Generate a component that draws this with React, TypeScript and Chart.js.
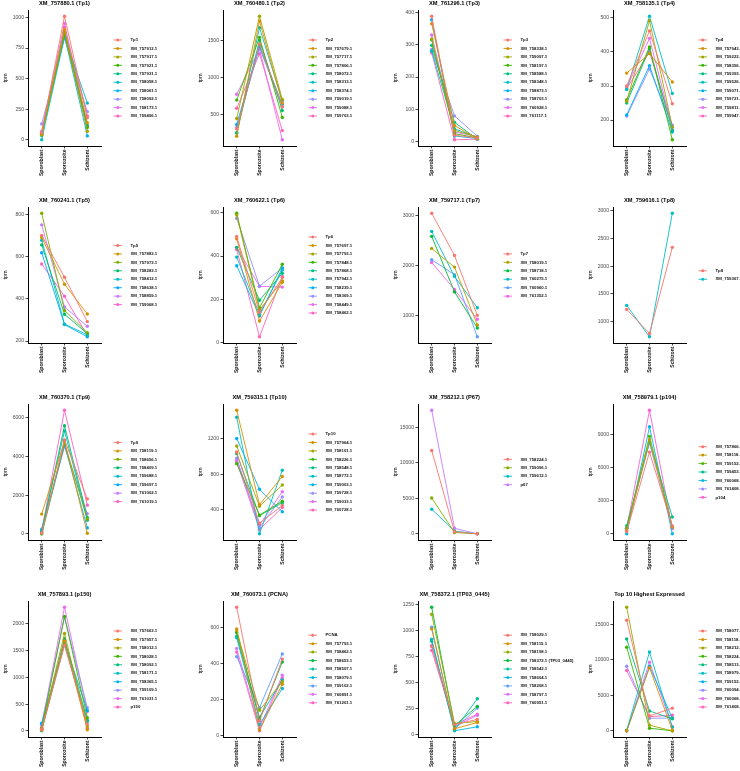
import React, { useEffect, useRef } from "react";
import { Chart, registerables } from "chart.js";

Chart.register(...registerables);

const stages = ["Sporoblast", "Sporozoite", "Schizont"];

// ---- Panel 1
const tp1Title = "XM_757880.1 (Tp1)";
const tp1Ticks = [0, 250, 500, 750, 1000];
const tp1Names = ["Tp1", "XM_757912.1", "XM_757917.1", "XM_757921.1", "XM_757931.1", "XM_758058.1", "XM_758061.1", "XM_758092.1", "XM_758173.1", "XM_759456.1"];
const tp1Values = [
  [60, 1010, 180], [50, 900, 140], [40, 880, 70], [45, 870, 100], [35, 890, 120],
  [0, 840, 300], [45, 850, 32], [130, 830, 230], [70, 950, 110], [55, 920, 195],
];

// ---- Panel 2
const tp2Title = "XM_760480.1 (Tp2)";
const tp2Ticks = [500, 1000, 1500];
const tp2Names = ["Tp2", "XM_757679.1", "XM_757717.1", "XM_757806.1", "XM_758072.1", "XM_758313.1", "XM_758374.1", "XM_759019.1", "XM_759088.1", "XM_759703.1"];
const tp2Values = [
  [300, 1450, 600], [200, 1760, 650], [440, 1826, 700], [690, 1540, 455], [250, 1500, 550],
  [240, 1670, 680], [360, 1420, 629], [320, 1400, 600], [770, 1380, 152], [580, 1317, 277],
];

// ---- Panel 3
const tp3Title = "XM_761296.1 (Tp3)";
const tp3Ticks = [0, 100, 200, 300, 400];
const tp3Names = ["Tp3", "XM_758338.1", "XM_759097.1", "XM_758197.1", "XM_758588.1", "XM_758348.1", "XM_758873.1", "XM_758703.1", "XM_760928.1", "XM_761117.1"];
const tp3Values = [
  [388, 20, 12], [365, 50, 10], [318, 35, 15], [315, 25, 12], [298, 60, 8],
  [280, 40, 14], [377, 18, 10], [285, 80, 17], [330, 30, 16], [275, 6, 8],
];

// ---- Panel 4
const tp4Title = "XM_758135.1 (Tp4)";
const tp4Ticks = [200, 300, 400, 500];
const tp4Names = ["Tp4", "XM_757943.1", "XM_759222.1", "XM_758356.1", "XM_759393.1", "XM_759526.1", "XM_759071.1", "XM_759721.1", "XM_759811.1", "XM_759947.1"];
const tp4Values = [
  [300, 462, 248], [338, 395, 312], [255, 492, 180], [260, 415, 142], [250, 410, 170],
  [290, 505, 278], [215, 360, 165], [212, 350, 185], [295, 440, 178], [292, 400, 183],
];

// ---- Panel 5
const tp5Title = "XM_760241.1 (Tp5)";
const tp5Ticks = [200, 400, 600, 800];
const tp5Names = ["Tp5", "XM_757883.1", "XM_757973.1", "XM_758283.1", "XM_758412.1", "XM_758638.1", "XM_758859.1", "XM_759068.1"];
const tp5Values = [
  [700, 502, 292], [690, 469, 328], [805, 345, 240], [655, 327, 235],
  [677, 280, 230], [618, 278, 220], [750, 361, 270], [565, 412, 225],
];

// ---- Panel 6
const tp6Title = "XM_760622.1 (Tp6)";
const tp6Ticks = [0, 200, 400, 600];
const tp6Names = ["Tp6", "XM_757697.1", "XM_757793.1", "XM_757848.1", "XM_757868.1", "XM_757942.1", "XM_758239.1", "XM_758369.1", "XM_758449.1", "XM_758462.1"];
const tp6Values = [
  [490, 140, 300], [480, 99, 278], [590, 150, 285], [598, 160, 362], [440, 195, 320],
  [395, 130, 335], [355, 122, 345], [575, 260, 345], [440, 260, 256], [430, 26, 305],
];

// ---- Panel 7
const tp7Title = "XM_759717.1 (Tp7)";
const tp7Ticks = [1000, 2000, 3000];
const tp7Names = ["Tp7", "XM_758019.1", "XM_758718.1", "XM_760275.1", "XM_760960.1", "XM_761352.1"];
const tp7Values = [
  [3046, 2199, 1000], [2338, 1967, 808], [2583, 1470, 748],
  [2682, 1781, 1152], [2113, 1815, 570], [2060, 1517, 921],
];

// ---- Panel 8
const tp8Title = "XM_759616.1 (Tp8)";
const tp8Ticks = [1000, 1500, 2000, 2500, 3000];
const tp8Names = ["Tp8", "XM_759367.1"];
const tp8Values = [
  [1221, 785, 2341], [1293, 725, 2958],
];

// ---- Panel 9
const tp9Title = "XM_760370.1 (Tp9)";
const tp9Ticks = [0, 2000, 4000, 6000];
const tp9Names = ["Tp9", "XM_758119.1", "XM_758656.1", "XM_758409.1", "XM_759688.1", "XM_759697.1", "XM_761002.1", "XM_761019.1"];
const tp9Values = [
  [50, 4855, 1806], [1020, 4800, 30], [0, 4700, 750], [100, 5590, 850],
  [200, 5315, 700], [0, 4600, 306], [255, 4500, 1040], [150, 6390, 1482],
];

// ---- Panel 10
const tp10Title = "XM_759315.1 (Tp10)";
const tp10Ticks = [400, 800, 1200];
const tp10Names = ["Tp10", "XM_757964.1", "XM_758101.1", "XM_758226.1", "XM_758548.1", "XM_758772.1", "XM_759003.1", "XM_759728.1", "XM_759033.1", "XM_760728.1"];
const tp10Values = [
  [1048, 250, 450], [1517, 459, 774], [1115, 440, 678], [918, 341, 497], [1030, 335, 480],
  [1439, 131, 844], [1200, 630, 378], [980, 200, 545], [960, 230, 604], [940, 180, 425],
];

// ---- Panel 11
const p67Title = "XM_758212.1 (P67)";
const p67Ticks = [0, 5000, 10000, 15000];
const p67Names = ["XM_758224.1", "XM_759096.1", "XM_759612.1", "p67"];
const p67Values = [
  [11750, 300, 10], [5060, 200, 10], [3480, 400, 10], [17430, 790, 10],
];

// ---- Panel 12
const p104Title = "XM_758979.1 (p104)";
const p104Ticks = [0, 3000, 6000, 9000];
const p104Names = ["XM_757866.1", "XM_758118.1", "XM_759152.1", "XM_759453.1", "XM_760068.1", "XM_761408.1", "p104"];
const p104Values = [
  [200, 7380, 700], [300, 8500, 600], [500, 8800, 650], [744, 8300, 1520],
  [0, 9670, 0], [500, 8200, 500], [500, 11160, 500],
];

// ---- Panel 13
const p150Title = "XM_757893.1 (p150)";
const p150Ticks = [0, 500, 1000, 1500, 2000];
const p150Names = ["XM_757663.1", "XM_757957.1", "XM_758012.1", "XM_758028.1", "XM_758092.1", "XM_758171.1", "XM_758365.1", "XM_759109.1", "XM_761031.1", "p150"];
const p150Values = [
  [30, 1600, 120], [10, 1680, 20], [40, 1822, 80], [50, 2142, 246], [20, 1723, 200],
  [0, 1620, 170], [141, 1650, 380], [130, 2130, 431], [100, 2314, 360], [60, 1700, 50],
];

// ---- Panel 14
const pcnaTitle = "XM_760073.1 (PCNA)";
const pcnaTicks = [0, 200, 400, 600];
const pcnaNames = ["PCNA", "XM_757793.1", "XM_758462.1", "XM_758653.1", "XM_758507.1", "XM_758079.1", "XM_759102.1", "XM_760891.1", "XM_761201.1"];
const pcnaValues = [
  [716, 80, 426], [595, 30, 285], [585, 140, 300], [575, 90, 410], [555, 100, 310],
  [545, 60, 262], [440, 154, 455], [485, 40, 336], [465, 25, 320],
];

// ---- Panel 15
const tp03Title = "XM_758372.1 (TP03_0445)";
const tp03Ticks = [0, 250, 500, 750, 1000, 1250];
const tp03Names = ["XM_758029.1", "XM_758115.1", "XM_758198.1", "XM_758372.1 (TP03_0445)", "XM_758542.1", "XM_758604.1", "XM_758208.1", "XM_758797.1", "XM_760951.1"];
const tp03Values = [
  [850, 100, 150], [1020, 60, 120], [1161, 110, 130], [1228, 90, 275], [900, 50, 348],
  [920, 40, 79], [1035, 55, 259], [861, 80, 190], [813, 100, 199],
];

// ---- Panel 16
const topTitle = "Top 10 Highest Expressed";
const topTicks = [0, 5000, 10000, 15000];
const topNames = ["XM_758077.1", "XM_758118.1", "XM_758212.1", "XM_758224.1", "XM_758513.1", "XM_758979.1", "XM_759152.1", "XM_760094.1", "XM_760068.1", "XM_761408.1"];
const topValues = [
  [15600, 2100, 3200], [0, 8900, 100], [17430, 790, 0], [11780, 370, 0], [12940, 2800, 1700],
  [100, 11120, 500], [0, 9100, 1775], [9110, 1775, 1800], [0, 9670, 600], [8500, 2000, 2200],
];

type Panel = { title: string; names: string[]; values: number[][]; ticks: number[] };

const panels: Panel[] = [
  { title: tp1Title, names: tp1Names, values: tp1Values, ticks: tp1Ticks },
  { title: tp2Title, names: tp2Names, values: tp2Values, ticks: tp2Ticks },
  { title: tp3Title, names: tp3Names, values: tp3Values, ticks: tp3Ticks },
  { title: tp4Title, names: tp4Names, values: tp4Values, ticks: tp4Ticks },
  { title: tp5Title, names: tp5Names, values: tp5Values, ticks: tp5Ticks },
  { title: tp6Title, names: tp6Names, values: tp6Values, ticks: tp6Ticks },
  { title: tp7Title, names: tp7Names, values: tp7Values, ticks: tp7Ticks },
  { title: tp8Title, names: tp8Names, values: tp8Values, ticks: tp8Ticks },
  { title: tp9Title, names: tp9Names, values: tp9Values, ticks: tp9Ticks },
  { title: tp10Title, names: tp10Names, values: tp10Values, ticks: tp10Ticks },
  { title: p67Title, names: p67Names, values: p67Values, ticks: p67Ticks },
  { title: p104Title, names: p104Names, values: p104Values, ticks: p104Ticks },
  { title: p150Title, names: p150Names, values: p150Values, ticks: p150Ticks },
  { title: pcnaTitle, names: pcnaNames, values: pcnaValues, ticks: pcnaTicks },
  { title: tp03Title, names: tp03Names, values: tp03Values, ticks: tp03Ticks },
  { title: topTitle, names: topNames, values: topValues, ticks: topTicks },
];

// ggplot2-style hue palette (HCL, c=100, l=65)
function hcl(h: number, c: number, l: number): string {
  const hr = (h * Math.PI) / 180;
  const U = c * Math.cos(hr);
  const V = c * Math.sin(hr);
  const Xn = 95.047, Yn = 100, Zn = 108.883;
  const den = Xn + 15 * Yn + 3 * Zn;
  const un = (4 * Xn) / den, vn = (9 * Yn) / den;
  const Y = l > 8 ? Yn * Math.pow((l + 16) / 116, 3) : (Yn * l) / 903.3;
  const u = U / (13 * l) + un;
  const v = V / (13 * l) + vn;
  const X = (Y * 9 * u) / (4 * v);
  const Z = (Y * (12 - 3 * u - 20 * v)) / (4 * v);
  const x = X / 100, y = Y / 100, z = Z / 100;
  const lin = [
    3.2404542 * x - 1.5371385 * y - 0.4985314 * z,
    -0.969266 * x + 1.8760108 * y + 0.041556 * z,
    0.0556434 * x - 0.2040259 * y + 1.0572252 * z,
  ];
  const hex = lin
    .map((c0) => {
      const g = c0 <= 0.0031308 ? 12.92 * c0 : 1.055 * Math.pow(c0, 1 / 2.4) - 0.055;
      const k = Math.round(Math.max(0, Math.min(1, g)) * 255);
      return k.toString(16).padStart(2, "0");
    })
    .join("");
  return "#" + hex.toUpperCase();
}

function huePalette(n: number): string[] {
  const out: string[] = [];
  for (let i = 0; i < n; i++) out.push(hcl(15 + (360 * i) / n, 100, 65));
  return out;
}

const FONT = "'Liberation Sans', Arial, Helvetica, sans-serif";
const CELL_W = 195;
const CELL_H = 197;
const ROW0 = -3;

const ggLegend = {
  id: "ggLegend",
  afterDraw(chart: any) {
    const { ctx, chartArea } = chart;
    const ds = chart.data.datasets;
    const n = ds.length;
    const rowH = 8.45;
    const cy = (chartArea.top + chartArea.bottom) / 2;
    const x0 = chartArea.right + 12.5;
    ctx.save();
    ctx.font = `bold 4.3px ${FONT}`;
    ctx.textBaseline = "middle";
    ctx.textAlign = "left";
    ds.forEach((d: any, i: number) => {
      const y = cy + (i - (n - 1) / 2) * rowH;
      ctx.strokeStyle = d.borderColor;
      ctx.lineWidth = 0.9;
      ctx.beginPath();
      ctx.moveTo(x0, y);
      ctx.lineTo(x0 + 8.5, y);
      ctx.stroke();
      ctx.fillStyle = d.borderColor;
      ctx.beginPath();
      ctx.arc(x0 + 4.25, y, 1.5, 0, Math.PI * 2);
      ctx.fill();
      ctx.fillStyle = "#111";
      ctx.fillText(d.label, x0 + 17, y);
    });
    ctx.restore();
  },
};

function PanelChart({ p, left, top }: { p: Panel; left: number; top: number }) {
  const ref = useRef<HTMLCanvasElement | null>(null);
  useEffect(() => {
    if (!ref.current) return;
    const colors = huePalette(p.names.length);
    const all = p.values.flat();
    const lo = Math.min(...all);
    const hi = Math.max(...all);
    const pad = (hi - lo) * 0.05;
    const chart = new Chart(ref.current, {
      type: "line",
      data: {
        datasets: p.names.map((name, i) => ({
          label: name,
          data: p.values[i].map((v, j) => ({ x: j + 1, y: v })),
          borderColor: colors[i],
          backgroundColor: colors[i],
          borderWidth: 0.9,
          pointRadius: 1.7,
          pointBorderWidth: 0,
          pointHoverRadius: 1.7,
          tension: 0,
        })),
      },
      options: {
        animation: false,
        responsive: false,
        events: [],
        layout: { padding: { left: 0, right: 94, top: 0, bottom: 0 } },
        plugins: {
          legend: { display: false },
          tooltip: { enabled: false },
          title: {
            display: true,
            text: p.title,
            fullSize: false,
            color: "#000",
            font: { family: FONT, size: 5.7, weight: "bold" },
            padding: { top: 3, bottom: 3.2 },
          },
        },
        scales: {
          x: {
            type: "linear",
            min: 0.4,
            max: 3.6,
            afterBuildTicks: (s: any) => {
              s.ticks = stages.map((_, i) => ({ value: i + 1 }));
            },
            afterFit: (s: any) => {
              s.height = 48;
            },
            ticks: {
              callback: (v: any) => stages[Number(v) - 1],
              minRotation: 90,
              maxRotation: 90,
              autoSkip: false,
              padding: 1,
              color: "#111",
              font: { family: FONT, size: 5.1, weight: "bold" },
            },
            grid: { display: true, drawOnChartArea: false, drawTicks: true, tickLength: 2.5, color: "#333", lineWidth: 0.9 },
            border: { display: true, color: "#000", width: 1 },
          },
          y: {
            type: "linear",
            min: lo - pad,
            max: hi + pad,
            afterBuildTicks: (s: any) => {
              s.ticks = p.ticks.filter((t) => t >= lo - pad && t <= hi + pad).map((t) => ({ value: t }));
            },
            afterFit: (s: any) => {
              s.width = 28;
            },
            title: {
              display: true,
              text: "tpm",
              color: "#000",
              font: { family: FONT, size: 5.5 },
              padding: { top: 2, bottom: 0 },
            },
            ticks: {
              callback: (v: any) => String(v),
              padding: 1.5,
              color: "#4d4d4d",
              font: { family: FONT, size: 5.1 },
            },
            grid: { display: true, drawOnChartArea: false, drawTicks: true, tickLength: 2.5, color: "#333", lineWidth: 0.9 },
            border: { display: true, color: "#000", width: 1 },
          },
        },
      },
      plugins: [ggLegend],
    } as any);
    return () => chart.destroy();
  }, [p]);
  return (
    <canvas
      ref={ref}
      width={CELL_W}
      height={CELL_H}
      style={{ position: "absolute", left, top, width: CELL_W, height: CELL_H }}
    />
  );
}

export default function App() {
  return (
    <div
      style={{
        position: "absolute",
        left: 0,
        top: 0,
        width: 740,
        height: 771,
        overflow: "hidden",
        background: "#fff",
      }}
    >
      {panels.map((p, i) => (
        <PanelChart key={i} p={p} left={(i % 4) * CELL_W} top={ROW0 + Math.floor(i / 4) * CELL_H} />
      ))}
    </div>
  );
}
